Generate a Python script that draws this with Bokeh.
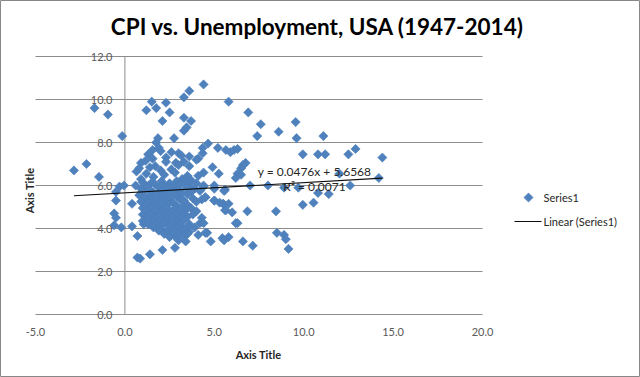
import math
from bokeh.plotting import figure
from bokeh.models import Label, Range1d
from bokeh.embed import file_html
from bokeh.resources import INLINE

# ---------------- data ----------------
title_text = "CPI vs. Unemployment, USA (1947-2014)"
x_title = "Axis Title"
y_title = "Axis Title"
x_ticks = [-5, 0, 5, 10, 15, 20]
x_tick_labels = ["-5.0", "0.0", "5.0", "10.0", "15.0", "20.0"]
y_ticks = [0, 2, 4, 6, 8, 10, 12]
y_tick_labels = ["0.0", "2.0", "4.0", "6.0", "8.0", "10.0", "12.0"]
series_name = "Series1"
trend_name = "Linear (Series1)"
trend_slope = 0.0476
trend_intercept = 5.6568
trend_r2 = 0.0071

# CPI inflation (%) / unemployment (%), by region
cpi_low = [-2.85, -2.15, -1.45, -1.7, -0.95, -0.15, -0.3, -0.05, -0.5, -0.5, -0.6, -0.5, -0.6,
           -0.2, 0.4, 0.4, 0.7, 1.05, 0.7, 0.85, 1.4, 2.1, 2.8, 0.65, 0.9]
unemp_low = [6.7, 7.0, 6.4, 9.6, 9.3, 8.3, 5.95, 6.0, 5.7, 5.3, 4.7, 4.5, 4.15,
             4.05, 5.15, 4.1, 3.65, 4.2, 2.65, 2.6, 2.8, 3.0, 3.1, 6.65, 6.3]

cpi_high_u = [1.2, 1.5, 1.75, 2.3, 2.5, 2.1, 3.3, 3.6, 4.4, 3.3, 3.7, 3.3, 3.45, 2.75, 1.85, 1.75,
              5.8, 6.9, 7.6, 7.4, 8.6, 9.55, 9.6, 11.1, 4.65]
unemp_high_u = [9.5, 9.9, 9.6, 9.85, 9.4, 9.0, 10.1, 10.4, 10.7, 9.15, 9.0, 8.55, 8.7, 8.2, 8.2, 8.0,
                9.9, 9.4, 8.85, 8.3, 8.5, 8.95, 8.2, 8.3, 7.95]

cpi_band = [1.55, 1.9, 2.3, 3.0, 3.15, 0.9, 1.15, 1.55, 4.35, 4.1, 4.35, 5.2, 5.65, 5.9, 6.1,
            6.3, 6.75, 6.6, 4.9, 5.25, 6.5, 6.3, 6.2, 2.0, 1.3, 2.6, 3.6, 4.0, 3.3, 2.85,
            2.3, 1.7, 1.4, 2.0, 2.6, 3.0, 3.6, 3.5, 3.7, 4.1, 4.4, 2.2, 2.8, 1.2, 1.6, 3.2, 0.8]
unemp_band = [7.65, 7.75, 7.3, 7.5, 7.4, 7.05, 7.15, 7.25, 7.5, 7.25, 7.75, 7.75, 7.65, 7.55, 7.65,
              7.7, 7.05, 6.95, 6.85, 6.55, 6.8, 6.55, 6.35, 7.6, 7.45, 7.55, 7.35, 7.2, 7.1, 7.05,
              7.1, 6.9, 6.85, 6.7, 6.75, 6.95, 6.9, 6.45, 6.25, 6.45, 6.6, 6.5, 6.6, 6.55, 6.4, 6.3, 6.8]

cpi_core = [1.0, 1.45, 2.05, 2.5, 2.9, 3.35, 4.0,
            0.6, 1.2, 1.7, 2.2, 2.75, 3.1, 3.6, 4.4, 5.0,
            0.9, 1.4, 1.9, 2.4, 3.0, 3.45, 3.9, 5.6,
            1.0, 1.6, 2.1, 2.65, 3.2, 3.7, 4.2,
            0.8, 1.3, 1.8, 2.3, 2.9, 3.5, 4.5,
            1.1, 1.5, 2.0, 2.5, 3.1, 3.8, 4.3,
            0.9, 1.3, 1.7, 2.2, 2.7, 3.3, 4.0, 5.0,
            1.2, 1.6, 2.0, 2.4, 2.9, 3.5, 5.5,
            1.0, 1.4, 1.8, 2.3, 2.8, 3.2, 3.7,
            1.2, 1.6, 2.1, 2.6, 3.0, 3.4, 4.0, 5.6,
            1.0, 1.4, 1.9, 2.4, 2.8, 3.3, 3.8,
            1.2, 1.7, 2.2, 2.6, 3.1, 3.5, 4.3,
            1.0, 1.5, 2.0, 2.4, 2.9, 3.3,
            1.3, 1.8, 2.2, 2.7, 3.1, 3.6, 4.2,
            1.6, 2.0, 2.5, 2.9, 3.4, 3.9,
            1.9, 2.3, 2.7, 3.2, 3.6,
            2.2, 2.6, 3.0, 3.5, 4.1,
            2.5, 2.9, 3.3,
            3.0, 3.4]
unemp_core = [6.15, 6.1, 6.2, 6.1, 6.2, 6.15, 6.1,
              6.0, 5.95, 6.05, 6.0, 5.95, 6.05, 6.0, 5.95, 6.0,
              5.85, 5.8, 5.9, 5.85, 5.8, 5.9, 5.85, 5.8,
              5.7, 5.65, 5.75, 5.7, 5.65, 5.7, 5.75,
              5.55, 5.5, 5.6, 5.55, 5.5, 5.6, 5.45,
              5.4, 5.35, 5.45, 5.4, 5.35, 5.4, 5.35,
              5.25, 5.2, 5.3, 5.25, 5.2, 5.3, 5.25, 5.3,
              5.1, 5.05, 5.15, 5.1, 5.05, 5.1, 5.15,
              4.95, 4.9, 5.0, 4.95, 4.9, 5.0, 4.95,
              4.8, 4.75, 4.85, 4.8, 4.75, 4.85, 4.8, 4.85,
              4.65, 4.6, 4.7, 4.65, 4.6, 4.7, 4.65,
              4.5, 4.45, 4.55, 4.5, 4.45, 4.55, 4.5,
              4.35, 4.3, 4.4, 4.35, 4.3, 4.4,
              4.2, 4.15, 4.25, 4.2, 4.15, 4.2, 4.25,
              4.05, 4.0, 4.1, 4.05, 4.0, 4.05,
              3.9, 3.85, 3.95, 3.9, 3.85,
              3.75, 3.7, 3.8, 3.75, 3.7,
              3.6, 3.55, 3.65,
              3.45, 3.4]

cpi_mid = [4.5, 5.0, 5.5, 5.65, 6.0, 6.85, 6.2, 4.6, 4.8, 5.45, 5.8, 6.6, 7.15, 5.3, 5.8, 4.4,
           6.3, 4.5, 5.55, 4.4, 5.0, 5.55, 7.0, 6.5]
unemp_mid = [5.45, 5.3, 5.15, 4.85, 4.75, 4.8, 4.25, 3.8, 3.4, 3.55, 3.6, 3.4, 3.2, 5.2, 5.15, 4.25,
             4.25, 3.8, 3.45, 6.0, 5.85, 5.75, 6.0, 6.5]

cpi_far = [8.0, 8.9, 9.7, 10.8, 11.4, 12.6, 12.0, 14.2, 9.95, 10.8, 11.2, 12.5, 12.9, 14.4,
           8.45, 9.95, 10.55, 8.5, 8.9, 9.0, 9.15]
unemp_far = [6.0, 5.9, 5.9, 5.65, 5.6, 6.0, 6.55, 6.35, 7.45, 7.45, 7.45, 7.45, 7.7, 7.3,
             4.8, 5.1, 5.2, 3.8, 3.7, 3.5, 3.05]

cpi = cpi_low + cpi_high_u + cpi_band + cpi_core + cpi_mid + cpi_far
unemployment = unemp_low + unemp_high_u + unemp_band + unemp_core + unemp_mid + unemp_far

# ---------------- layout ----------------
W, H = 640, 377
FL, FR, FT, FB = 35, 482, 56, 314          # plot-area edges in pixels
X0, X1, Y0, Y1 = x_ticks[0], x_ticks[-1], y_ticks[0], y_ticks[-1]
KX = (X1 - X0) / (FR - FL)                 # data units per pixel
KY = (Y1 - Y0) / (FB - FT)

def px_x(px):
    return X0 + (px - FL) * KX

def px_y(py):
    return Y0 + (FB - py) * KY

FONT = "Lato"
BLUE = "#4F81BD"
EDGE = "#4A7EBB"
GRID = "#8c8c8c"
MARK = dict(marker="square", angle=math.pi / 4, size=6.5,
            fill_color=BLUE, line_color=EDGE, line_width=0.6)

# the whole canvas is the drawing area; the chart's plot area is X0..X1 / Y0..Y1 inside it
p = figure(width=W, height=H, output_backend="svg", toolbar_location=None, title=None,
           x_range=Range1d(px_x(0), px_x(W)), y_range=Range1d(px_y(H), px_y(0)),
           x_axis_location=None, y_axis_location=None,
           min_border=0, min_border_left=0, min_border_right=0,
           min_border_top=0, min_border_bottom=0)
p.outline_line_color = "#878787"
p.outline_line_width = 1
p.background_fill_color = "white"
p.border_fill_color = "white"
for g in p.grid:
    g.visible = False

# horizontal gridlines across the plot area, and the vertical axis at x = 0
p.segment(x0=[X0] * len(y_ticks), x1=[X1] * len(y_ticks), y0=y_ticks, y1=y_ticks,
          line_color=GRID, line_width=1)
p.segment(x0=[0], x1=[0], y0=[Y0], y1=[Y1], line_color=GRID, line_width=1)

# points
sc = p.scatter(cpi, unemployment, **MARK)

# trend line from the labelled equation over the data's x span
tx = [min(cpi), max(cpi)]
ty = [trend_slope * v + trend_intercept for v in tx]
ln = p.line(tx, ty, line_color="#0d0d0d", line_width=1.1)

# tick labels
for t, s in zip(x_ticks, x_tick_labels):
    p.add_layout(Label(x=t, y=px_y(331), text=s, text_align="center", text_baseline="middle",
                       text_font=FONT, text_font_size="11px", text_color="#595959"))
for t, s in zip(y_ticks, y_tick_labels):
    p.add_layout(Label(x=px_x(112), y=t, text=s, text_align="right", text_baseline="middle",
                       text_font=FONT, text_font_size="11px", text_color="#595959"))

# titles
p.add_layout(Label(x=px_x(317), y=px_y(26), text=title_text, text_align="center",
                   text_baseline="middle", text_font=FONT, text_font_size="22.5px",
                   text_font_style="bold", text_color="#000000"))
p.add_layout(Label(x=px_x(258), y=px_y(354), text=x_title, text_align="center",
                   text_baseline="middle", text_font=FONT, text_font_size="11px",
                   text_font_style="bold", text_color="#262626"))
p.add_layout(Label(x=px_x(29), y=px_y(190), text=y_title, text_align="center",
                   text_baseline="middle", angle=math.pi / 2, text_font=FONT,
                   text_font_size="11px", text_font_style="bold", text_color="#262626"))

# trendline equation
p.add_layout(Label(x=px_x(314), y=px_y(171),
                   text=f"y = {trend_slope:.4f}x + {trend_intercept:.4f}",
                   text_align="center", text_baseline="middle", text_font=FONT,
                   text_font_size="12px", text_color="#262626"))
p.add_layout(Label(x=px_x(314), y=px_y(186), text=f"R\u00b2 = {trend_r2:.4f}",
                   text_align="center", text_baseline="middle", text_font=FONT,
                   text_font_size="12px", text_color="#262626"))

# legend (drawn as marks + labels at the reference's legend position)
p.scatter([px_x(528)], [px_y(197)], **MARK)
p.line([px_x(514), px_x(541)], [px_y(221), px_y(221)], line_color="#0d0d0d", line_width=1.1)
p.add_layout(Label(x=px_x(543), y=px_y(197), text=series_name, text_align="left",
                   text_baseline="middle", text_font=FONT, text_font_size="11px",
                   text_color="#262626"))
p.add_layout(Label(x=px_x(543), y=px_y(221), text=trend_name, text_align="left",
                   text_baseline="middle", text_font=FONT, text_font_size="11px",
                   text_color="#262626"))

open("out.html", "w").write(file_html(p, INLINE))
